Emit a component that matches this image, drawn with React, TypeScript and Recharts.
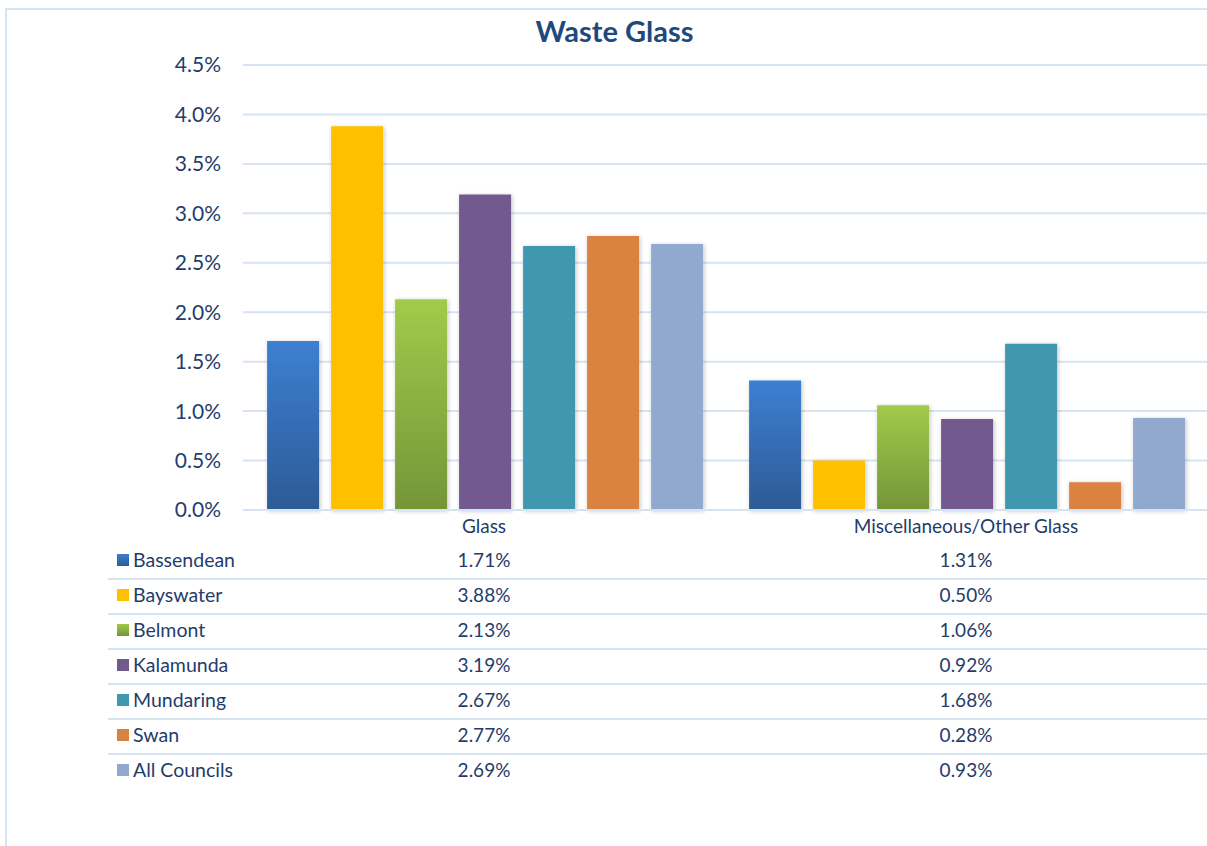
import { Bar, BarChart, CartesianGrid, XAxis, YAxis } from "recharts"

const categories = ["Glass", "Miscellaneous/Other Glass"]

const councils = ["Bassendean", "Bayswater", "Belmont", "Kalamunda", "Mundaring", "Swan", "All Councils"]

const bassendean = [1.71, 1.31]
const bayswater = [3.88, 0.5]
const belmont = [2.13, 1.06]
const kalamunda = [3.19, 0.92]
const mundaring = [2.67, 1.68]
const swan = [2.77, 0.28]
const allCouncils = [2.69, 0.93]

const yTicks = [0, 0.5, 1, 1.5, 2, 2.5, 3, 3.5, 4, 4.5]

const seriesValues = [bassendean, bayswater, belmont, kalamunda, mundaring, swan, allCouncils]

const fills = [
  "url(#gradBlue)",
  "#ffc000",
  "url(#gradGreen)",
  "#725a8f",
  "#4198ae",
  "#da8240",
  "#91a9cf",
]

const keyColors = [
  "linear-gradient(#3c7dd0, #2e5c98)",
  "#ffc000",
  "linear-gradient(#a0c84a, #76963a)",
  "#725a8f",
  "#4198ae",
  "#da8240",
  "#91a9cf",
]

const data = categories.map((name, i) => {
  const row: Record<string, string | number> = { name }
  councils.forEach((c, j) => {
    row[c] = seriesValues[j][i]
  })
  return row
})

const font = "Lato, 'Open Sans', sans-serif"
const textColor = "#1f3d6b"

export default function App() {
  return (
    <div style={{ position: "absolute", left: 0, top: 0, width: 1207, height: 846, background: "#fff", fontFamily: font, overflow: "hidden" }}>
      {/* chart frame */}
      <div style={{ position: "absolute", left: 5, top: 8, width: 1210, height: 850, borderLeft: "2px solid #d6e3f2", borderTop: "2px solid #d6e3f2" }} />
      <div style={{ position: "absolute", left: 0, top: 13, width: 1229, textAlign: "center", fontSize: 29, fontWeight: 700, color: "#1f497d" }}>
        Waste Glass
      </div>
      <div style={{ position: "absolute", left: 0, top: 0 }}>
        <BarChart
          width={1207}
          height={545}
          data={data}
          margin={{ top: 65, right: 0, left: 0, bottom: 5 }}
          barCategoryGap="5%"
          barGap={12}
        >
          <defs>
            <linearGradient id="gradBlue" x1="0" y1="0" x2="0" y2="1">
              <stop offset="0%" stopColor="#3d7fd2" />
              <stop offset="100%" stopColor="#2d5b96" />
            </linearGradient>
            <linearGradient id="gradGreen" x1="0" y1="0" x2="0" y2="1">
              <stop offset="0%" stopColor="#a2ca4b" />
              <stop offset="100%" stopColor="#749538" />
            </linearGradient>
            <filter id="shadow" x="-20%" y="-20%" width="140%" height="140%">
              <feDropShadow dx="1" dy="1" stdDeviation="2" floodColor="#000" floodOpacity="0.25" />
            </filter>
          </defs>
          <CartesianGrid vertical={false} stroke="#d6e3f2" strokeWidth={2} />
          <XAxis
            dataKey="name"
            axisLine={{ stroke: "#d6e3f2", strokeWidth: 2 }}
            tickLine={false}
            tickSize={0}
            tickMargin={10}
            tick={{ fill: textColor, fontSize: 19, fontFamily: font }}
          />
          <YAxis
            width={243}
            domain={[0, 4.5]}
            ticks={yTicks}
            interval={0}
            axisLine={false}
            tickLine={false}
            tickSize={0}
            tickMargin={22}
            tickFormatter={(v: number) => `${v.toFixed(1)}%`}
            tick={{ fill: textColor, fontSize: 21, fontFamily: font }}
          />
          {councils.map((c, j) => (
            <Bar key={c} dataKey={c} fill={fills[j]} filter="url(#shadow)" isAnimationActive={false} />
          ))}
        </BarChart>
      </div>
      {/* data table */}
      {councils.map((c, j) => (
        <div key={c}>
          <div
            style={{
              position: "absolute",
              left: 117,
              top: 554 + j * 35,
              width: 12,
              height: 12,
              background: keyColors[j],
            }}
          />
          <div style={{ position: "absolute", left: 133, top: 548 + j * 35, fontSize: 19.5, color: textColor, lineHeight: "24px" }}>
            {c}
          </div>
          {categories.map((cat, i) => (
            <div
              key={cat}
              style={{
                position: "absolute",
                left: 243 + i * 482,
                width: 482,
                textAlign: "center",
                top: 548 + j * 35,
                fontSize: 19,
                color: textColor,
                lineHeight: "24px",
              }}
            >
              {seriesValues[j][i].toFixed(2)}%
            </div>
          ))}
          {j < councils.length - 1 && (
            <div style={{ position: "absolute", left: 108, top: 578 + j * 35, width: 1100, height: 2, background: "#d6e3f2" }} />
          )}
        </div>
      ))}
    </div>
  )
}
